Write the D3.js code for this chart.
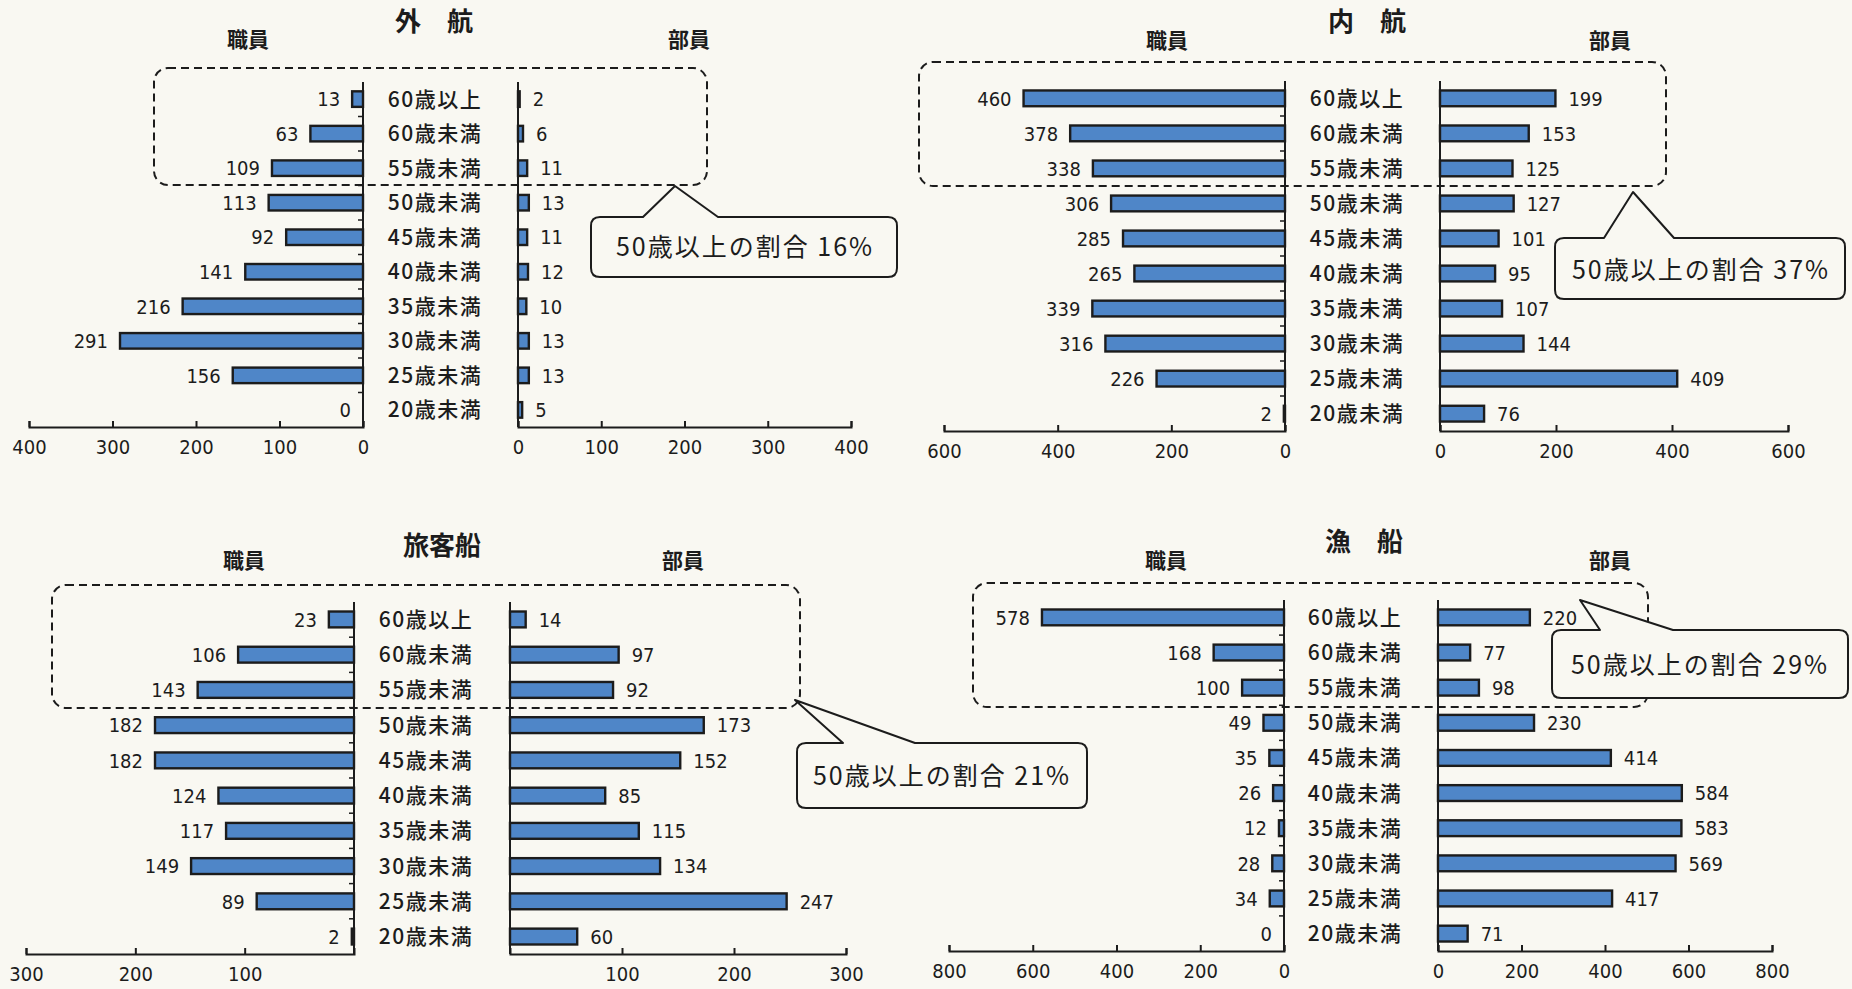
<!DOCTYPE html>
<html><head><meta charset="utf-8">
<script src="https://cdn.jsdelivr.net/npm/d3@7"></script>
<style>
html,body{margin:0;padding:0;background:#f9f8f2;}
svg{display:block;}
</style></head>
<body>
<svg id="chart" width="1852" height="989"></svg>
<script>
// ---- data ----
const categories = ["60歳以上","60歳未満","55歳未満","50歳未満","45歳未満","40歳未満","35歳未満","30歳未満","25歳未満","20歳未満"];
const panelTitles = ["外　航","内　航","旅客船","漁　船"];
const leftLabel = "職員";
const rightLabel = "部員";
const shareLabels = ["50歳以上の割合 16%","50歳以上の割合 37%","50歳以上の割合 21%","50歳以上の割合 29%"];

const gaikouShokuin = [13,63,109,113,92,141,216,291,156,0];
const gaikouBuin    = [2,6,11,13,11,12,10,13,13,5];
const naikouShokuin = [460,378,338,306,285,265,339,316,226,2];
const naikouBuin    = [199,153,125,127,101,95,107,144,409,76];
const ryokyakuShokuin = [23,106,143,182,182,124,117,149,89,2];
const ryokyakuBuin    = [14,97,92,173,152,85,115,134,247,60];
const gyosenShokuin = [578,168,100,49,35,26,12,28,34,0];
const gyosenBuin    = [220,77,98,230,414,584,583,569,417,71];

const gaikouMax = 400, naikouMax = 600, ryokyakuMax = 300, gyosenMax = 800;
const gaikouTicks = [0,100,200,300,400];
const naikouTicks = [0,200,400,600];
const ryokyakuTicks = [100,200,300];
const gyosenTicks = [0,200,400,600,800];

// ---- layout (pixel positions only) ----
const layouts = [
  {lz:363, le:29, rz:518, re:851, top:82, axisY:427, catX:435, title:[434,22], lab:[248,39], rab:[689,39],
   box:[154,68,707,185], call:[591,217,897,277], tip:[675,186], base:[643,718], text:[745,247]},
  {lz:1285, le:944, rz:1440, re:1788, top:81, axisY:431, catX:1357, title:[1367,22], lab:[1167,40], rab:[1610,40],
   box:[919,62,1666,186], call:[1555,238,1845,299], tip:[1633,192], base:[1604,1674], text:[1701,270]},
  {lz:354, le:26, rz:510, re:846, top:602, axisY:954, catX:426, title:[442,546], lab:[244,560], rab:[683,560],
   box:[52,585,800,708], call:[797,743,1087,808], tip:[795,700], base:[843,915], text:[942,776]},
  {lz:1284, le:949, rz:1438, re:1772, top:600, axisY:951, catX:1355, title:[1364,542], lab:[1166,560], rab:[1610,560],
   box:[973,583,1648,707], call:[1552,630,1848,698], tip:[1580,600], base:[1600,1673], text:[1700,665]}
];

const panels = [
  {L:gaikouShokuin, R:gaikouBuin, max:gaikouMax, ticks:gaikouTicks},
  {L:naikouShokuin, R:naikouBuin, max:naikouMax, ticks:naikouTicks},
  {L:ryokyakuShokuin, R:ryokyakuBuin, max:ryokyakuMax, ticks:ryokyakuTicks},
  {L:gyosenShokuin, R:gyosenBuin, max:gyosenMax, ticks:gyosenTicks}
];

const BG = "#f9f8f2";
const BAR = "#4f86c8";
const INK = "#1c1c1c";
const CJK = "'Noto Sans CJK JP','Noto Sans CJK SC',sans-serif";
const NUM = "'Liberation Sans Narrow','Arial Narrow','DejaVu Sans Condensed',sans-serif";

const svg = d3.select("#chart");
svg.append("rect").attr("width",1852).attr("height",989).attr("fill",BG);

function calloutPath(c, tip, base, r){
  const [x0,y0,x1,y1] = c;
  return `M${base[0]},${y0} L${tip[0]},${tip[1]} L${base[1]},${y0} H${x1-r} Q${x1},${y0} ${x1},${y0+r} V${y1-r} Q${x1},${y1} ${x1-r},${y1} H${x0+r} Q${x0},${y1} ${x0},${y1-r} V${y0+r} Q${x0},${y0} ${x0+r},${y0} Z`;
}

panels.forEach((p, i) => {
  const g = layouts[i];
  const G = svg.append("g");
  const y = d3.scaleBand().domain(categories).range([g.top, g.axisY]).paddingInner(0.55).paddingOuter(0.27);
  const yb = d3.scaleBand().domain(categories).range([g.top, g.axisY]);
  const lx = d3.scaleLinear().domain([0,p.max]).range([g.lz, g.le]);
  const rx = d3.scaleLinear().domain([0,p.max]).range([g.rz, g.re]);

  // dashed box
  G.append("rect").attr("x",g.box[0]).attr("y",g.box[1]).attr("width",g.box[2]-g.box[0]).attr("height",g.box[3]-g.box[1])
    .attr("rx",14).attr("fill","none").attr("stroke",INK).attr("stroke-width",2).attr("stroke-dasharray","8,5");

  // titles
  G.append("text").attr("x",g.title[0]).attr("y",g.title[1]).attr("text-anchor","middle").attr("dy","0.36em")
    .style("font-family",CJK).style("font-size","26px").style("font-weight","bold").attr("fill",INK).text(panelTitles[i]);
  G.append("text").attr("x",g.lab[0]).attr("y",g.lab[1]).attr("text-anchor","middle").attr("dy","0.36em")
    .style("font-family",CJK).style("font-size","21px").style("font-weight","bold").attr("fill",INK).text(leftLabel);
  G.append("text").attr("x",g.rab[0]).attr("y",g.rab[1]).attr("text-anchor","middle").attr("dy","0.36em")
    .style("font-family",CJK).style("font-size","21px").style("font-weight","bold").attr("fill",INK).text(rightLabel);

  // bars
  G.selectAll(".lb").data(p.L).join("rect")
    .attr("x", d => lx(d)).attr("y",(d,k)=>y(categories[k]))
    .attr("width", d => g.lz - lx(d)).attr("height", y.bandwidth())
    .attr("fill",BAR).attr("stroke",INK).attr("stroke-width",2.4);
  G.selectAll(".rb").data(p.R).join("rect")
    .attr("x", g.rz).attr("y",(d,k)=>y(categories[k]))
    .attr("width", d => rx(d) - g.rz).attr("height", y.bandwidth())
    .attr("fill",BAR).attr("stroke",INK).attr("stroke-width",2.4);

  // value labels
  G.selectAll(".lv").data(p.L).join("text")
    .attr("x", d => lx(d) - 12).attr("y",(d,k)=>y(categories[k]) + y.bandwidth()/2).attr("dy","0.36em")
    .attr("text-anchor","end").style("font-family",NUM).style("font-size","20px").attr("fill",INK).text(d=>d);
  G.selectAll(".rv").data(p.R).join("text")
    .attr("x", d => rx(d) + 13).attr("y",(d,k)=>y(categories[k]) + y.bandwidth()/2).attr("dy","0.36em")
    .attr("text-anchor","start").style("font-family",NUM).style("font-size","20px").attr("fill",INK).text(d=>d);

  // category labels
  G.selectAll(".cat").data(categories).join("text")
    .attr("x", g.catX).attr("y", d => y(d) + y.bandwidth()/2).attr("dy","0.36em")
    .attr("text-anchor","middle").style("font-family",CJK).style("font-size","21px").style("font-weight","500")
    .style("letter-spacing","1.5px").attr("fill",INK).text(d=>d);

  // vertical axes
  [g.lz, g.rz].forEach(x0 => {
    G.append("line").attr("x1",x0).attr("x2",x0).attr("y1",g.top).attr("y2",g.axisY)
      .attr("stroke",INK).attr("stroke-width",2);
  });
  G.selectAll(".mt").data(categories.slice(1)).join("line")
    .attr("x1", g.lz-5).attr("x2", g.lz).attr("y1", d=>yb(d)).attr("y2", d=>yb(d))
    .attr("stroke",INK).attr("stroke-width",1.5);

  // bottom axes
  const axL = d3.axisBottom(lx).tickValues(p.ticks).tickSize(-6).tickSizeOuter(-6).tickPadding(13);
  const axR = d3.axisBottom(rx).tickValues(p.ticks).tickSize(-6).tickSizeOuter(-6).tickPadding(13);
  [axL, axR].forEach(ax => {
    const a = G.append("g").attr("transform",`translate(0,${g.axisY})`).call(ax);
    a.select(".domain").attr("stroke",INK).attr("stroke-width",2);
    a.selectAll(".tick line").attr("stroke",INK).attr("stroke-width",2);
    a.selectAll(".tick text").style("font-family",NUM).style("font-size","20px").attr("fill",INK);
  });

  // callout
  G.append("path").attr("d", calloutPath(g.call, g.tip, g.base, 9))
    .attr("fill",BG).attr("stroke",INK).attr("stroke-width",2).attr("stroke-linejoin","round");
  G.append("text").attr("x",g.text[0]).attr("y",g.text[1]).attr("dy","0.36em").attr("text-anchor","middle")
    .style("font-family",CJK).style("font-size","25px").style("letter-spacing","2px").attr("fill",INK).text(shareLabels[i]);
});
</script>
</body></html>
